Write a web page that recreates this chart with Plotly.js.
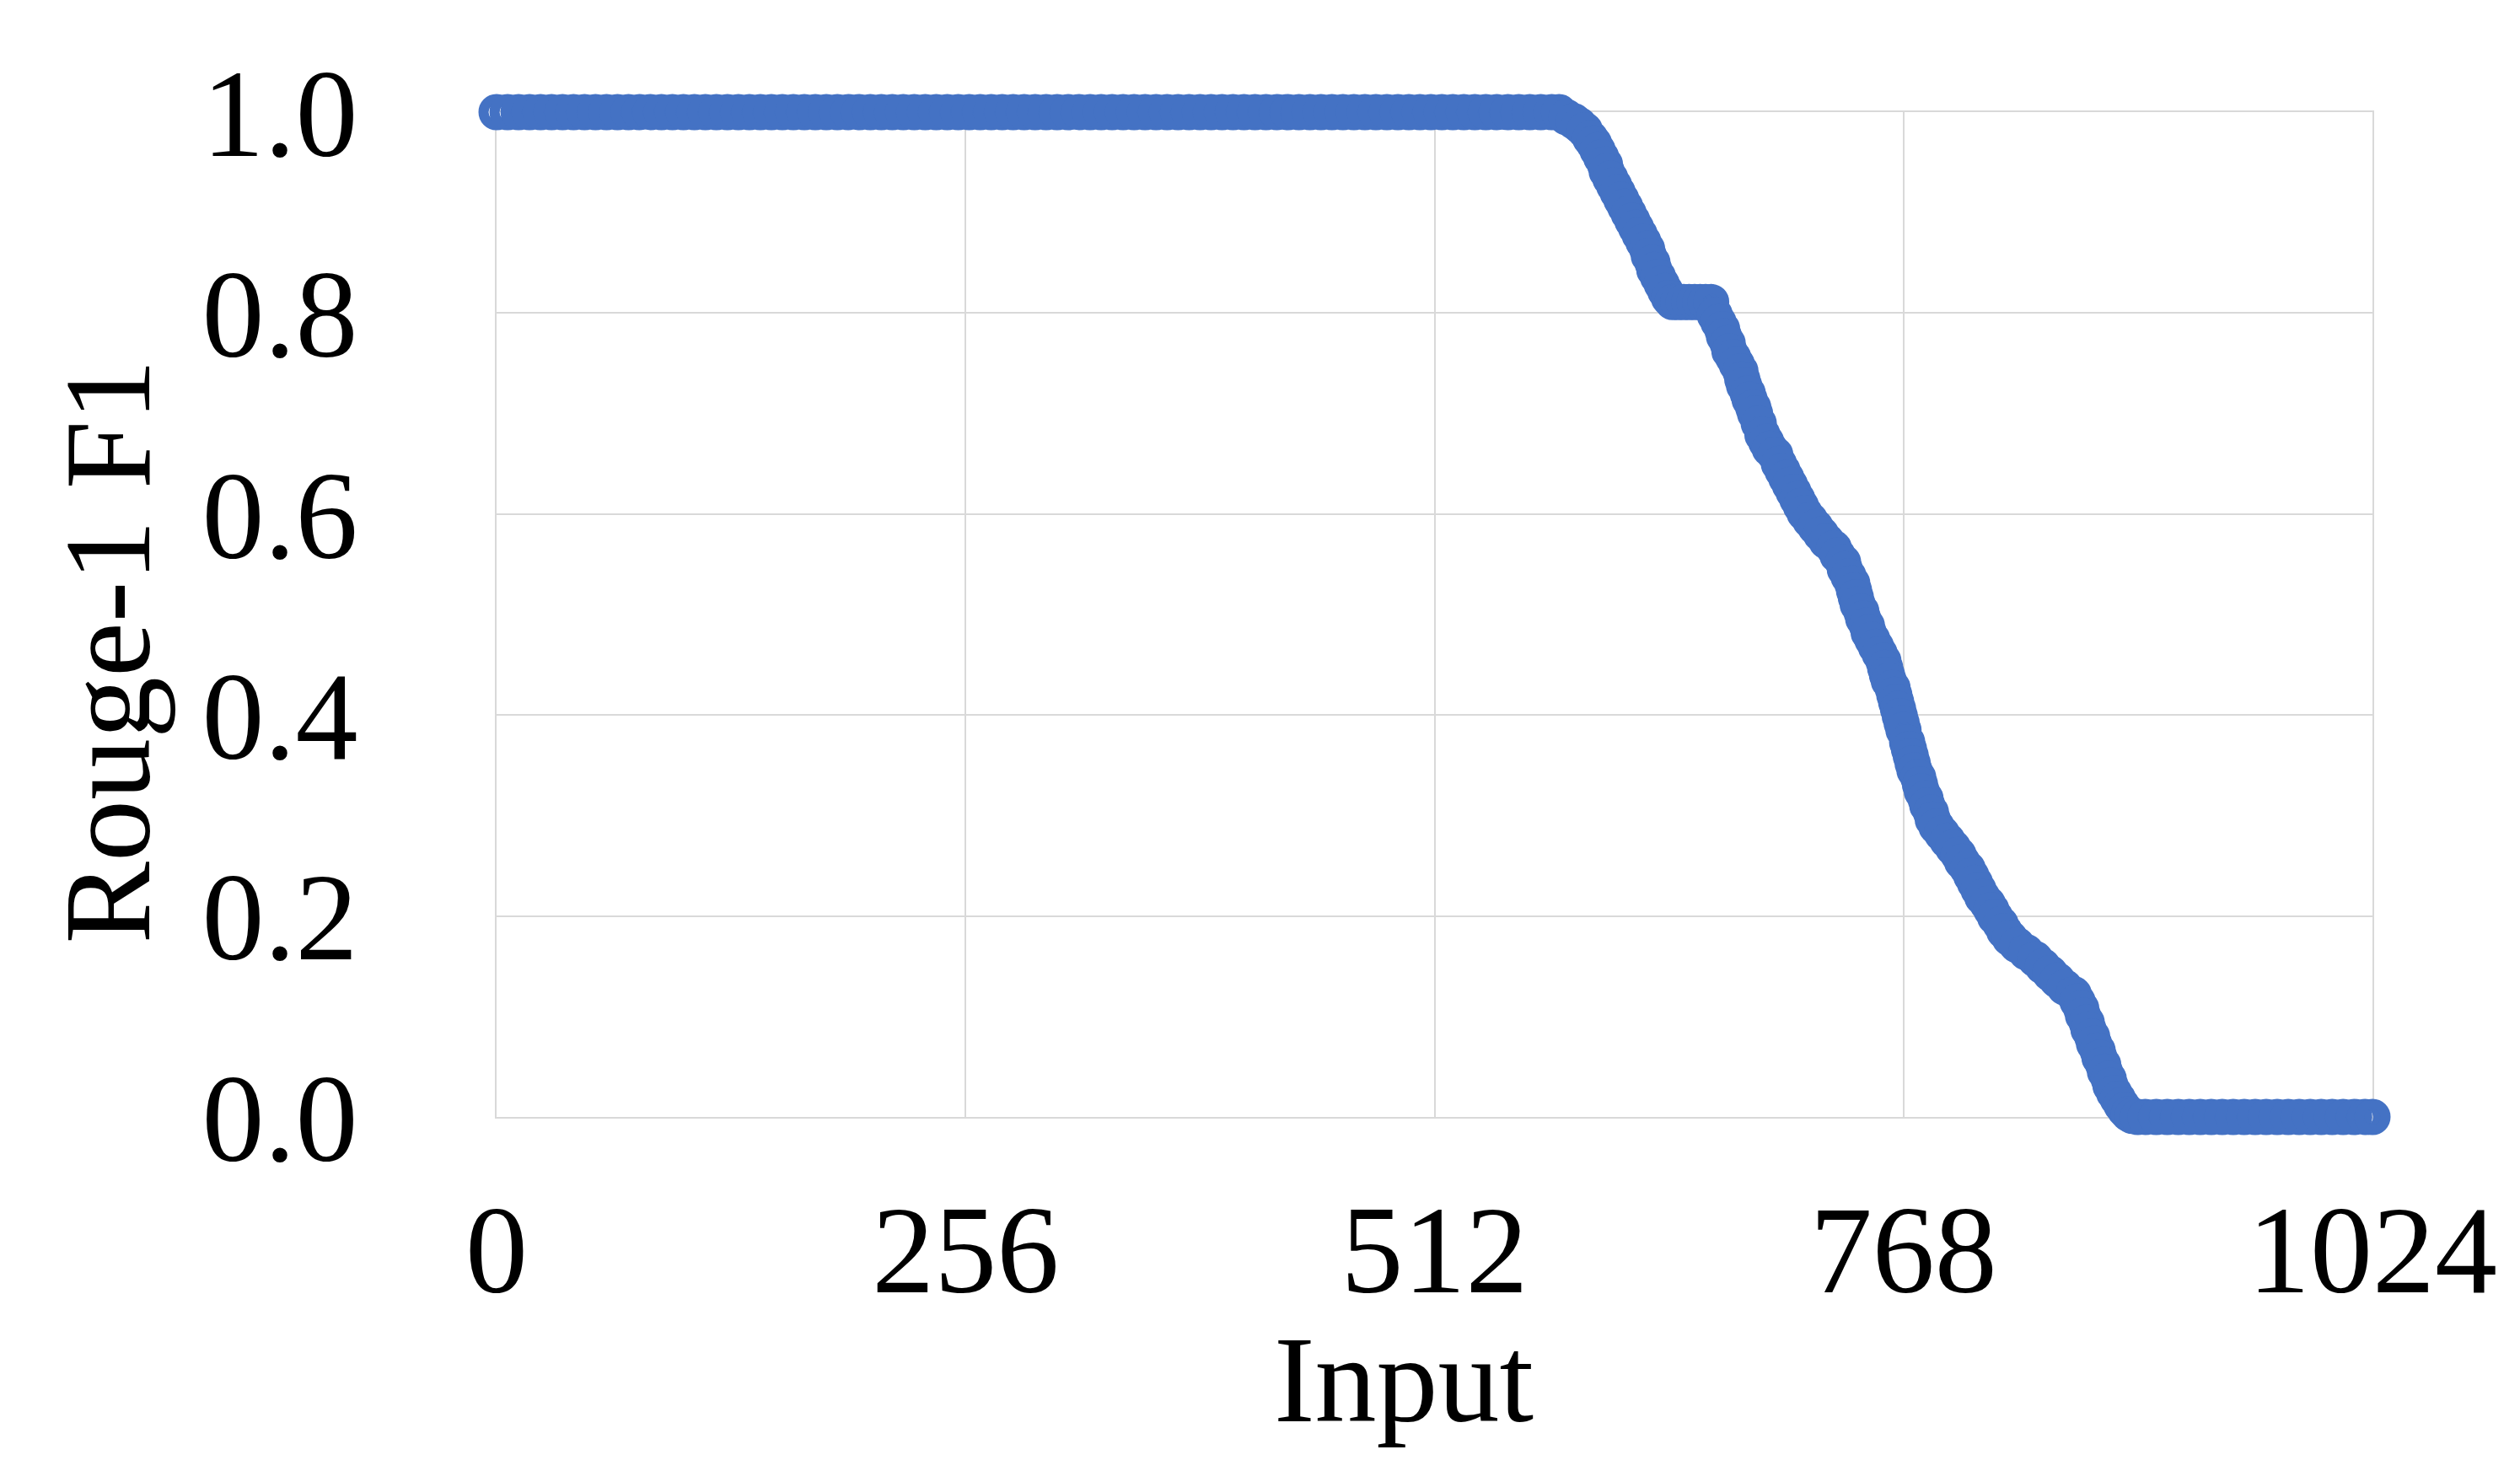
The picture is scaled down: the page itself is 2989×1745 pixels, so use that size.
<!DOCTYPE html>
<html>
<head>
<meta charset="utf-8">
<script src="https://cdn.plot.ly/plotly-3.0.1.min.js"></script>
<style>html,body{margin:0;padding:0;background:#fff;}#chart{width:2989px;height:1745px;}</style>
</head>
<body>
<div id="chart"></div>
<script>
// ---- Data ----
// Flat segment at Rouge-1 F1 = 1.0
const plateauHighInputs = [0,6,12,18,24,30,36,42,48,54,60,66,72,78,84,90,96,102,108,114,120,126,132,138,144,150,156,162,168,174,180,186,192,198,204,210,216,222,228,234,240,246,252,258,264,270,276,282,288,294,300,306,312,318,324,330,336,342,348,354,360,366,372,378,384,390,396,402,408,414,420,426,432,438,444,450,456,462,468,474,480,486,492,498,504,510,516,522,528,534,540,546,552,558,564,570,576];
const plateauHighScores = [1,1,1,1,1,1,1,1,1,1, 1,1,1,1,1,1,1,1,1,1, 1,1,1,1,1,1,1,1,1,1, 1,1,1,1,1,1,1,1,1,1, 1,1,1,1,1,1,1,1,1,1, 1,1,1,1,1,1,1,1,1,1, 1,1,1,1,1,1,1,1,1,1, 1,1,1,1,1,1,1,1,1,1, 1,1,1,1,1,1,1,1,1,1, 1,1,1,1,1,1,1];

// Descending segment
const dropInputs = [580,584,588,591,594,597,599,601,603,605,606,608,610,612,614,616,618,620,622,624,626,628,629,631,632,634,636,638,640,642,645,648,651,654,657,660,663,665,667,669,670,672,673,675,677,679,680,681,683,684,686,687,689,691,693,695,698,700,702,704,706,708,710,712,714,717,720,723,726,730,732,735,736,738,740,741,742,743,745,746,748,749,751,753,755,757,758,759,760,762,763,764,765,766,767,768,770,771,772,773,774,776,777,778,780,781,783,784,786,789,792,795,798,800,803,805,807,809,811,814,816,818,821,823,826,830,835,840,844,848,852,856,861,863,865,866,868,869,871,872,874,875,877,878,880,881,883,885,887,889,891,893,896];
const dropScores = [1.000,0.995,0.991,0.987,0.982,0.974,0.969,0.962,0.955,0.948,0.941,0.934,0.927,0.920,0.913,0.906,0.899,0.892,0.885,0.878,0.871,0.864,0.857,0.850,0.843,0.836,0.829,0.822,0.815,0.811,0.811,0.811,0.811,0.811,0.811,0.811,0.811,0.798,0.791,0.784,0.777,0.770,0.762,0.756,0.749,0.742,0.734,0.728,0.720,0.714,0.706,0.700,0.690,0.679,0.672,0.665,0.659,0.650,0.643,0.636,0.629,0.622,0.615,0.608,0.601,0.594,0.587,0.580,0.573,0.566,0.559,0.552,0.545,0.538,0.531,0.524,0.517,0.510,0.503,0.496,0.489,0.482,0.475,0.468,0.461,0.454,0.447,0.440,0.434,0.427,0.420,0.413,0.406,0.399,0.392,0.385,0.373,0.366,0.359,0.352,0.345,0.338,0.331,0.324,0.317,0.310,0.303,0.296,0.289,0.282,0.275,0.268,0.261,0.254,0.247,0.240,0.233,0.226,0.219,0.212,0.206,0.199,0.192,0.185,0.178,0.171,0.164,0.157,0.150,0.143,0.136,0.129,0.122,0.115,0.108,0.101,0.094,0.087,0.080,0.073,0.066,0.059,0.052,0.045,0.038,0.031,0.024,0.018,0.012,0.007,0.003,0.001,0.000];

// Flat segment at Rouge-1 F1 = 0.0
const plateauLowInputs = [900,906,912,918,924,930,936,942,948,954,960,966,972,978,984,990,996,1002,1008,1014,1020,1024];
const plateauLowScores = [0,0,0,0,0,0,0,0,0,0,0,0,0,0,0,0,0,0,0,0,0,0];

// Axis ticks and titles
const xTickVals = [0,256,512,768,1024];
const xTickText = ['0','256','512','768','1024'];
const yTickVals = [0,0.2,0.4,0.6,0.8,1.0];
const yTickText = ['0.0','0.2','0.4','0.6','0.8','1.0'];
const xTitle = 'Input';
const yTitle = 'Rouge-1 F1';

const inputs = plateauHighInputs.concat(dropInputs, plateauLowInputs);
const scores = plateauHighScores.concat(dropScores, plateauLowScores);

const BLUE = '#4472C4';
const FONT = 'Liberation Serif, Times New Roman, serif';

const trace = {
  type: 'scatter',
  mode: 'markers',
  x: inputs,
  y: scores,
  cliponaxis: false,
  marker: {
    symbol: 'circle',
    size: 31,
    color: 'rgba(255,255,255,0)',
    line: {color: BLUE, width: 12}
  },
  hoverinfo: 'x+y'
};

const axisCommon = {
  showgrid: true,
  gridcolor: '#d9d9d9',
  gridwidth: 2,
  zeroline: false,
  showline: true,
  linecolor: '#d9d9d9',
  linewidth: 2,
  mirror: true,
  ticks: '',
  layer: 'below traces',
  tickfont: {family: FONT, size: 148, color: '#000000'},
  automargin: false
};

const layout = {
  width: 2989,
  height: 1745,
  paper_bgcolor: '#ffffff',
  plot_bgcolor: '#ffffff',
  showlegend: false,
  margin: {l: 589, r: 175, t: 133, b: 420, pad: 0},
  xaxis: Object.assign({}, axisCommon, {
    range: [0, 1024],
    tickmode: 'array',
    tickvals: xTickVals,
    ticktext: xTickText,
    ticklabelstandoff: 28
  }),
  yaxis: Object.assign({}, axisCommon, {
    range: [0, 1],
    tickmode: 'array',
    tickvals: yTickVals,
    ticktext: yTickText,
    ticklabelstandoff: 133
  }),
  annotations: [
    {
      text: xTitle, xref: 'paper', yref: 'paper', x: 0.4836, y: -0.2617,
      xanchor: 'center', yanchor: 'middle', showarrow: false,
      font: {family: FONT, size: 146, color: '#000000'}
    },
    {
      text: yTitle, xref: 'paper', yref: 'paper', x: -0.2070, y: 0.4639,
      xanchor: 'center', yanchor: 'middle', showarrow: false, textangle: -90,
      font: {family: FONT, size: 146, color: '#000000'}
    }
  ]
};

Plotly.newPlot('chart', [trace], layout, {displayModeBar: false, staticPlot: true});
</script>
</body>
</html>
